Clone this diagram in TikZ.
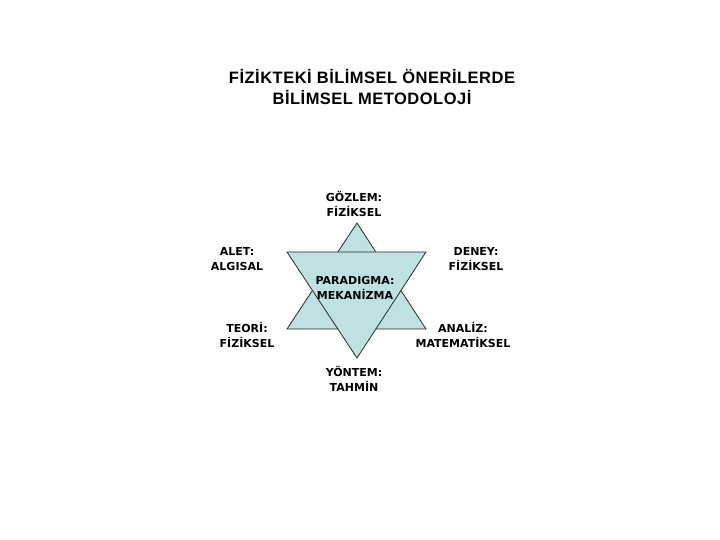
\documentclass[tikz,border=0pt]{standalone}
\usepackage{fontspec}
\usepackage{tikz}
\usetikzlibrary{positioning,calc}
\setmainfont{DejaVu Sans}
\newfontfamily\titlefont[LetterSpace=3]{Liberation Sans}
\definecolor{StarBlue}{RGB}{190,225,228}
\definecolor{EdgeGray}{RGB}{40,40,40}
\tikzset{
  starlabel/.style={align=center,inner sep=0pt,font=\fontsize{11bp}{14.5bp}\selectfont\bfseries},
  startri/.style={fill=StarBlue,draw=EdgeGray,line width=0.8pt,line join=miter}
}

\begin{document}
\begin{tikzpicture}[x=1bp,y=-1bp]
				\useasboundingbox (0,0) rectangle (720,540);
				
				% upward and downward triangles
				\foreach \i/\pos in {1/{357,223},2/{287,329},3/{426,329}}
				\coordinate (u\i) at (\pos);
				\foreach \i/\pos in {1/{287,252},2/{426,252},3/{357,358}}
				\coordinate (d\i) at (\pos);
				
				\draw[startri] (u1)--(u2)--(u3)--cycle;
				\draw[startri] (d1)--(d2)--(d3)--cycle;
				
				\node[align=center,inner sep=0pt,font=\titlefont\fontsize{16.5bp}{20.5bp}\selectfont\bfseries] (title) at (372,87)
				{FİZİKTEKİ BİLİMSEL ÖNERİLERDE\\BİLİMSEL METODOLOJİ};
				
				\node[starlabel] (gozlem) at (354,204) {GÖZLEM:\\FİZİKSEL};
				\node[starlabel] (alet) at (237,259) {ALET:\\ALGISAL};
				\node[starlabel] (deney) at (476,259) {DENEY:\\FİZİKSEL};
				\node[starlabel] (paradigma) at (355,288) {PARADIGMA:\\MEKANİZMA};
				\node[starlabel] (teori) at (247,335) {TEORİ:\\FİZİKSEL};
				\node[starlabel] (analiz) at (463,335) {ANALİZ:\\MATEMATİKSEL};
				\node[starlabel] (yontem) at (354,379) {YÖNTEM:\\TAHMİN};
			\end{tikzpicture}
\end{document}
